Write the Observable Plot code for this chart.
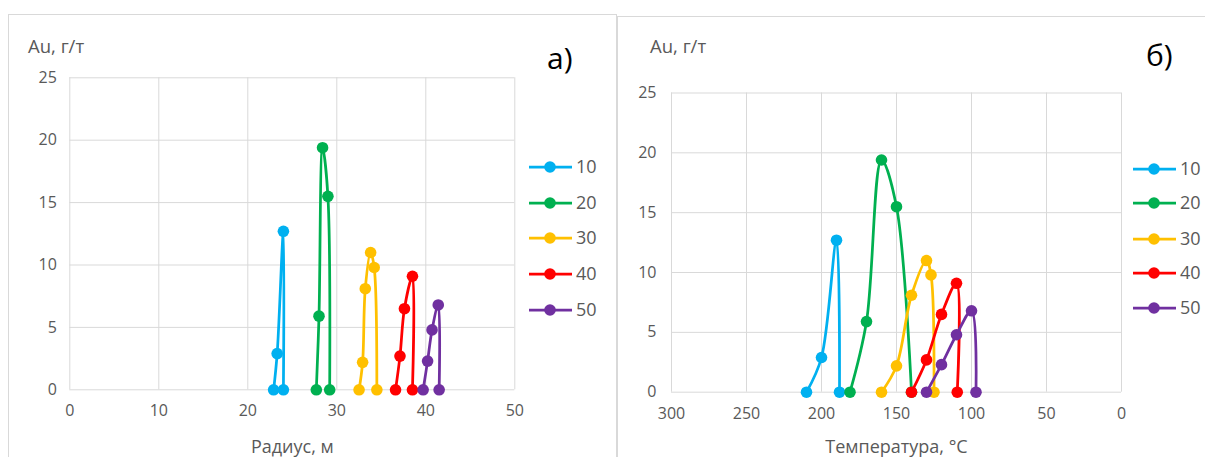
<!DOCTYPE html>
<html><head><meta charset="utf-8">
<script src="https://cdn.jsdelivr.net/npm/d3@7"></script>
<script src="https://cdn.jsdelivr.net/npm/@observablehq/plot@0.6"></script>
<style>
body{margin:0;background:#fff;font-family:"Open Sans",sans-serif;}
#wrap{position:relative;width:1205px;height:457px;overflow:hidden;background:#fff}
.panel{position:absolute;border:1px solid #d9d9d9;background:#fff}
.lbl{position:absolute;color:#595959;font-size:18.5px;white-space:nowrap;line-height:1}
.tag{position:absolute;color:#000;font-size:30px;line-height:1}
.chart{position:absolute;top:0}
</style></head><body>
<div id="wrap">
  <div class="panel" style="left:8px;top:14px;width:607px;height:470px"></div>
  <div class="panel" style="left:617px;top:16px;width:600px;height:470px"></div>
  <div id="chartA" class="chart" style="left:0;width:616px"></div>
  <div id="chartB" class="chart" style="left:617px;width:588px"></div>
  <div class="lbl" style="left:28px;top:37px">Au, г/т</div>
  <div class="tag" style="left:547px;top:43px">а)</div>
  <div class="lbl" style="left:650px;top:37px">Au, г/т</div>
  <div class="tag" style="left:1146px;top:40px">б)</div>
</div>
<script>
// ---- data ----
const seriesNames = ["10", "20", "30", "40", "50"];
const seriesColors = ["#00b0f0", "#00b050", "#ffc000", "#ff0000", "#7030a0"];

const au10 = [0, 2.9, 12.7, 0];
const au20 = [0, 5.9, 19.4, 15.5, 0];
const au30 = [0, 2.2, 8.1, 11.0, 9.8, 0];
const au40 = [0, 2.7, 6.5, 9.1, 0];
const au50 = [0, 2.3, 4.8, 6.8, 0];

const radius10 = [22.9, 23.3, 24.0, 24.0];
const radius20 = [27.7, 28.0, 28.4, 29.0, 29.2];
const radius30 = [32.5, 32.9, 33.2, 33.8, 34.2, 34.5];
const radius40 = [36.6, 37.1, 37.6, 38.5, 38.5];
const radius50 = [39.7, 40.2, 40.7, 41.4, 41.5];

const temp10 = [210, 200, 190, 188];
const temp20 = [181, 170, 160, 150, 140];
const temp30 = [160, 150, 140, 130, 127, 125];
const temp40 = [140, 130, 120, 110, 109.5];
const temp50 = [130, 120, 110, 100, 97];

const yTicks = [0, 5, 10, 15, 20, 25];
const xTicksA = [0, 10, 20, 30, 40, 50];
const xTicksB = [300, 250, 200, 150, 100, 50, 0];
const xLabelA = "Радиус, м";
const xLabelB = "Температура, °C";

// ---- build tables ----
const auAll = [au10, au20, au30, au40, au50];
const radAll = [radius10, radius20, radius30, radius40, radius50];
const tempAll = [temp10, temp20, temp30, temp40, temp50];
const rows = [];
seriesNames.forEach((s, i) => auAll[i].forEach((v, j) => rows.push({s, au: v, r: radAll[i][j], t: tempAll[i][j]})));

const grey = "#d9d9d9";
const txt = "#595959";

function makeChart(opts) {
  const marks = [
    Plot.gridY(yTicks, {stroke: grey, strokeOpacity: 1, strokeWidth: 1}),
    Plot.gridX(opts.xTicks, {stroke: grey, strokeOpacity: 1, strokeWidth: 1}),
    Plot.axisY(yTicks, {tickSize: 0, tickPadding: opts.yPad, label: null, fontSize: 16}),
    Plot.axisX(opts.xTicks, {tickSize: 0, tickPadding: 15, label: null, fontSize: 16}),
    Plot.text([opts.xLabel], {frameAnchor: "bottom", lineAnchor: "middle", dy: opts.titleDy, text: d => d, fontSize: 18, fill: txt})
  ];
  seriesNames.forEach(s => {
    const d = rows.filter(r => r.s === s);
    marks.push(Plot.line(d, {x: opts.xKey, y: "au", stroke: "s", curve: "catmull-rom", strokeWidth: 2.75}));
    marks.push(Plot.dot(d, {x: opts.xKey, y: "au", fill: "s", r: 5.8, stroke: "none"}));
  });
  const svg = Plot.plot({
    width: opts.width, height: 457,
    marginLeft: opts.ml, marginRight: opts.mr, marginTop: opts.mt, marginBottom: opts.mb,
    x: {domain: opts.xDomain, reverse: opts.reverse, label: null},
    y: {domain: [0, 25], label: null},
    color: {domain: seriesNames, range: seriesColors},
    style: {background: "transparent", color: txt, fontFamily: "Open Sans, sans-serif", overflow: "visible"},
    marks
  });
  // legend
  const g = d3.select(svg).append("g").attr("text-anchor", "start");
  seriesNames.forEach((s, i) => {
    const y = opts.legY[i];
    g.append("line").attr("x1", opts.legX).attr("x2", opts.legX + 43).attr("y1", y).attr("y2", y)
      .attr("stroke", seriesColors[i]).attr("stroke-width", 2.75);
    g.append("circle").attr("cx", opts.legX + 21).attr("cy", y).attr("r", 5.8).attr("fill", seriesColors[i]);
    g.append("text").attr("x", opts.legX + 47).attr("y", y).attr("dy", "0.36em")
      .attr("fill", txt).attr("font-size", 18).text(s);
  });
  return svg;
}

document.getElementById("chartA").appendChild(makeChart({
  width: 616, ml: 69.3, mr: 101.7, mt: 77.3, mb: 67.7,
  xDomain: [0, 50], reverse: false, xKey: "r", xTicks: xTicksA, xLabel: xLabelA,
  yPad: 13, titleDy: 57, legX: 529, legY: [167, 203, 238, 274, 310]
}));
document.getElementById("chartB").appendChild(makeChart({
  width: 588, ml: 54, mr: 84, mt: 92.5, mb: 65.3,
  xDomain: [0, 300], reverse: true, xKey: "t", xTicks: xTicksB, xLabel: xLabelB,
  yPad: 15, titleDy: 55, legX: 516, legY: [169, 203, 239, 273, 308]
}));
</script>
</body></html>
